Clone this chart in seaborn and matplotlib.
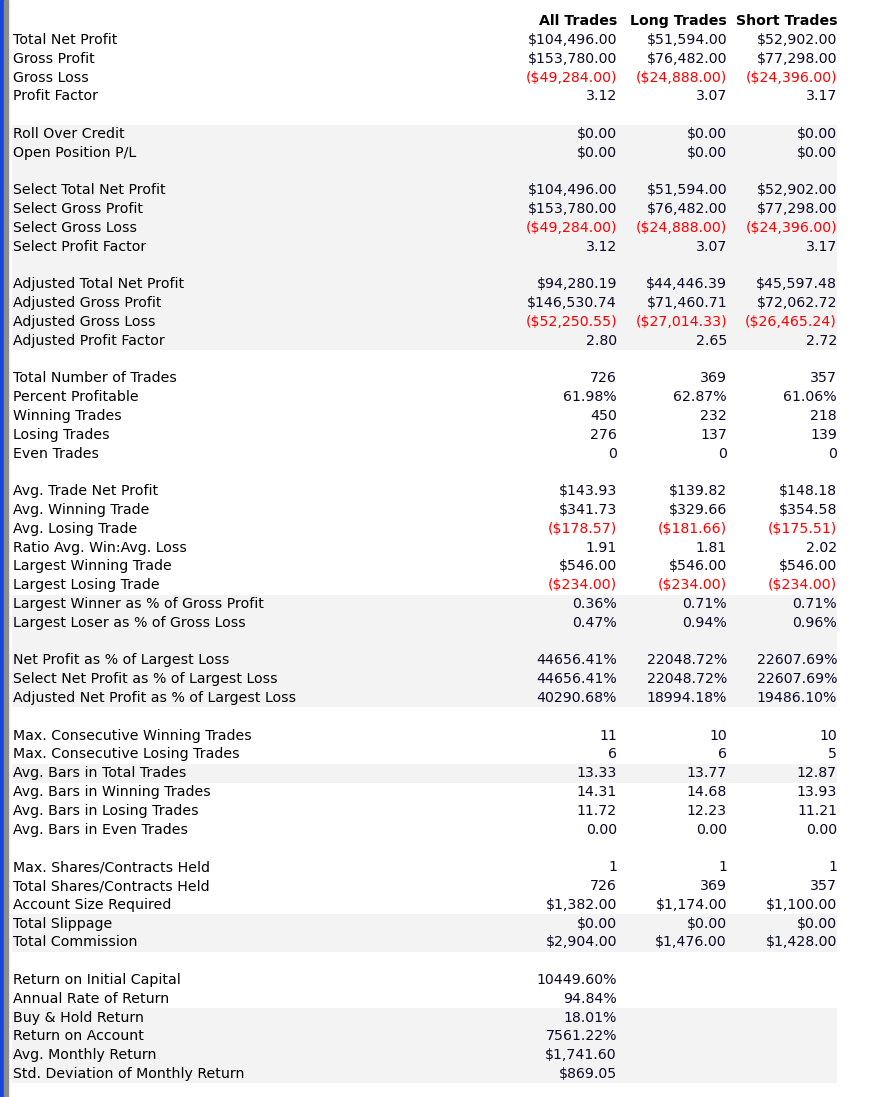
import matplotlib.pyplot as plt
import seaborn as sns

sns.set_theme(style="white")
plt.rcParams['font.family'] = ['DejaVu Sans']

# ==========================================
# DATA
# ==========================================
columns = ["All Trades", "Long Trades", "Short Trades"]

labels = [
    "Total Net Profit", "Gross Profit", "Gross Loss", "Profit Factor", "",
    "Roll Over Credit", "Open Position P/L", "",
    "Select Total Net Profit", "Select Gross Profit", "Select Gross Loss", "Select Profit Factor", "",
    "Adjusted Total Net Profit", "Adjusted Gross Profit", "Adjusted Gross Loss", "Adjusted Profit Factor", "",
    "Total Number of Trades", "Percent Profitable", "Winning Trades", "Losing Trades", "Even Trades", "",
    "Avg. Trade Net Profit", "Avg. Winning Trade", "Avg. Losing Trade", "Ratio Avg. Win:Avg. Loss",
    "Largest Winning Trade", "Largest Losing Trade", "Largest Winner as % of Gross Profit",
    "Largest Loser as % of Gross Loss", "",
    "Net Profit as % of Largest Loss", "Select Net Profit as % of Largest Loss",
    "Adjusted Net Profit as % of Largest Loss", "",
    "Max. Consecutive Winning Trades", "Max. Consecutive Losing Trades", "Avg. Bars in Total Trades",
    "Avg. Bars in Winning Trades", "Avg. Bars in Losing Trades", "Avg. Bars in Even Trades", "",
    "Max. Shares/Contracts Held", "Total Shares/Contracts Held", "Account Size Required",
    "Total Slippage", "Total Commission", "",
    "Return on Initial Capital", "Annual Rate of Return", "Buy & Hold Return", "Return on Account",
    "Avg. Monthly Return", "Std. Deviation of Monthly Return",
]

all_trades = [
    "$104,496.00", "$153,780.00", "($49,284.00)", "3.12", "",
    "$0.00", "$0.00", "",
    "$104,496.00", "$153,780.00", "($49,284.00)", "3.12", "",
    "$94,280.19", "$146,530.74", "($52,250.55)", "2.80", "",
    "726", "61.98%", "450", "276", "0", "",
    "$143.93", "$341.73", "($178.57)", "1.91", "$546.00", "($234.00)", "0.36%", "0.47%", "",
    "44656.41%", "44656.41%", "40290.68%", "",
    "11", "6", "13.33", "14.31", "11.72", "0.00", "",
    "1", "726", "$1,382.00", "$0.00", "$2,904.00", "",
    "10449.60%", "94.84%", "18.01%", "7561.22%", "$1,741.60", "$869.05",
]

long_trades = [
    "$51,594.00", "$76,482.00", "($24,888.00)", "3.07", "",
    "$0.00", "$0.00", "",
    "$51,594.00", "$76,482.00", "($24,888.00)", "3.07", "",
    "$44,446.39", "$71,460.71", "($27,014.33)", "2.65", "",
    "369", "62.87%", "232", "137", "0", "",
    "$139.82", "$329.66", "($181.66)", "1.81", "$546.00", "($234.00)", "0.71%", "0.94%", "",
    "22048.72%", "22048.72%", "18994.18%", "",
    "10", "6", "13.77", "14.68", "12.23", "0.00", "",
    "1", "369", "$1,174.00", "$0.00", "$1,476.00", "",
    "", "", "", "", "", "",
]

short_trades = [
    "$52,902.00", "$77,298.00", "($24,396.00)", "3.17", "",
    "$0.00", "$0.00", "",
    "$52,902.00", "$77,298.00", "($24,396.00)", "3.17", "",
    "$45,597.48", "$72,062.72", "($26,465.24)", "2.72", "",
    "357", "61.06%", "218", "139", "0", "",
    "$148.18", "$354.58", "($175.51)", "2.02", "$546.00", "($234.00)", "0.71%", "0.96%", "",
    "22607.69%", "22607.69%", "19486.10%", "",
    "10", "5", "12.87", "13.93", "11.21", "0.00", "",
    "1", "357", "$1,100.00", "$0.00", "$1,428.00", "",
    "", "", "", "", "", "",
]

# shaded bands, as (first row, last row), rows counted from 1
shaded_rows = [(6, 17), (31, 36), (40, 40), (48, 49), (53, 56)]

# ==========================================
# LAYOUT
# ==========================================
W, H = 875, 1097
ROW0, PITCH = 40, 18.8
LABEL_X = 13
COL_X = [617, 727, 837]
FS = 10.2

fig = plt.figure(figsize=(W / 100, H / 100), dpi=100)
ax = fig.add_axes([0, 0, 1, 1])
ax.set_xlim(0, W)
ax.set_ylim(H, 0)
ax.axis('off')


def row_y(i):
    return ROW0 + (i - 1) * PITCH


# window border on the left
ax.axvspan(0, 4, color='#1846d8')
ax.axvspan(4, 8, color='#8c8c8c')

for a, b in shaded_rows:
    ax.fill_between([12, 837], row_y(a) - PITCH / 2, row_y(b) + PITCH / 2,
                    color='#f3f3f3', lw=0)

for x, name in zip(COL_X, columns):
    ax.text(x, row_y(0), name, ha='right', va='center', fontsize=FS,
            fontweight='bold', color='black')

for i, lab in enumerate(labels, start=1):
    y = row_y(i)
    ax.text(LABEL_X, y, lab, ha='left', va='center', fontsize=FS, color='black')
    for x, col in zip(COL_X, [all_trades, long_trades, short_trades]):
        v = col[i - 1]
        c = '#ff0000' if v.startswith('(') else '#0a0a28'
        ax.text(x, y, v, ha='right', va='center', fontsize=FS, color=c)

plt.savefig('out.png', dpi=100)
